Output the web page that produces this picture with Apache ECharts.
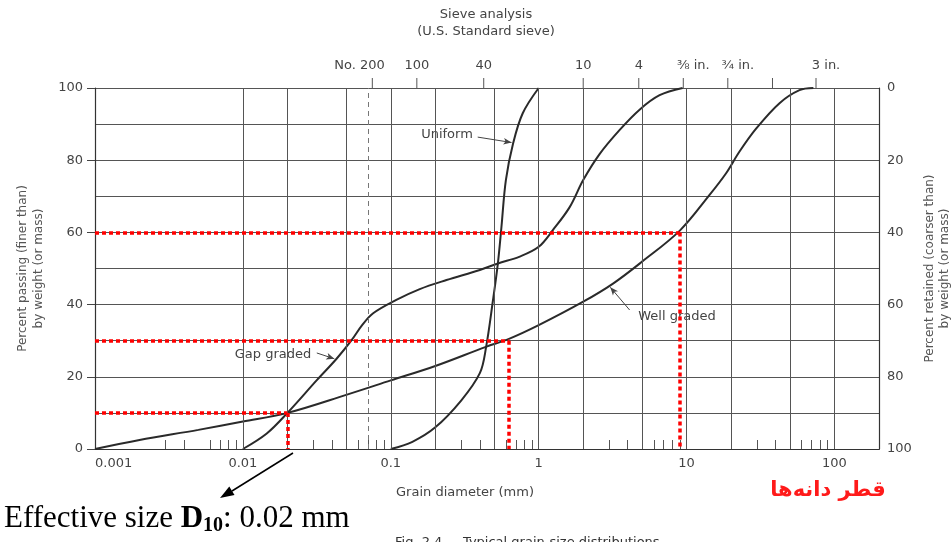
<!DOCTYPE html>
<html><head><meta charset="utf-8">
<script src="https://cdn.jsdelivr.net/npm/echarts@6/dist/echarts.min.js"></script>
<style>html,body{margin:0;padding:0;background:#fff}#c{width:951px;height:542px}</style>
</head><body><div id="c"></div>
<script>
// ---- data (grain diameter in mm, percent passing) ----
const uniformSize    = [0.1, 0.14, 0.2, 0.3, 0.4, 0.44, 0.49, 0.53, 0.56, 0.6, 0.67, 0.78, 1.0];
const uniformPassing = [0, 2, 6, 13.5, 21, 28, 41, 51.5, 61.5, 74.5, 84.5, 93, 100];

const gapSize    = [0.01, 0.0145, 0.02, 0.0315, 0.043, 0.054, 0.064, 0.076, 0.109, 0.157, 0.238, 0.4, 0.53, 0.745, 1.0, 1.25, 1.62, 2.0, 2.58, 3.53, 4.81, 6.57, 9.4];
const gapPassing = [0, 4.3, 10, 19, 25, 30, 34.3, 37.6, 41.3, 44.3, 46.8, 49.6, 51.4, 53.3, 56, 60.7, 67, 74.5, 81.7, 88.4, 94, 98, 100];

const wellSize    = [0.001, 0.002, 0.005, 0.01, 0.02, 0.05, 0.1, 0.2, 0.44, 0.63, 1.0, 2.0, 3.2, 5.0, 9.0, 14.3, 18.5, 22.8, 29.6, 42.5, 58, 72];
const wellPassing = [0, 2.5, 5.3, 7.6, 10, 15, 19, 23, 28.3, 30.5, 34.3, 40.8, 45.9, 51.9, 60.5, 70.4, 76.4, 82.4, 88.8, 95.8, 99.4, 100];

// effective sizes D10, D30, D60 (well graded)
const dSizes    = [0.02, 0.63, 9];
const dPercents = [10, 30, 60];

// axis ticks
const bottomLabels = [0.001, 0.01, 0.1, 1, 10, 100];
const gridLinesX   = [0.002, 0.005, 0.01, 0.02, 0.05, 0.1, 0.2, 0.5, 1, 2, 5, 10, 20, 50, 100];
const minorTicksX  = [0.003, 0.004, 0.006, 0.007, 0.008, 0.009, 0.03, 0.04, 0.06, 0.07, 0.08, 0.09,
                      0.3, 0.4, 0.6, 0.7, 0.8, 0.9, 3, 4, 6, 7, 8, 9, 30, 40, 60, 70, 80, 90];
const sieveSizes  = [0.075, 0.15, 0.425, 2, 4.75, 9.5, 19, 38.1, 75];
const sieveLabels = ['No. 200', '100', '40', '10', '4', '⅜ in.', '¾ in.', '', '3 in.'];
const no200Size = 0.075;

// ---- chart ----
const FONT = 'DejaVu Sans';
const TXT = '#444';
const zip = (xs, ys) => xs.map((x, i) => [x, ys[i]]);

// top axis shows the plain sieve labels; "No. 200" is placed separately
const topLabelValues = sieveSizes.filter((s, i) => sieveLabels[i] && sieveLabels[i].indexOf('No. ') !== 0);

function sieveFormatter(v) {
  let i = sieveSizes.findIndex(s => Math.abs(Math.log10(v / s)) < 1e-6);
  if (i < 0) return '';
  const t = sieveLabels[i];
  if (!t) return '';
  if (t.indexOf(' in.') > 0 && t.length === 5) return '{h| in.}{v|' + t + '}';
  return '{v|' + t + '}';
}

const curveStyle = { color: '#2a2a2a', width: 2 };
const arrowStyle = { color: '#444', width: 1, type: 'solid' };

function arrowLine(p0, p1) {
  return [{ coord: p0, symbol: 'none', lineStyle: arrowStyle }, { coord: p1, symbol: 'arrow', symbolSize: [5, 8], lineStyle: arrowStyle }];
}

const redLines = [];
dSizes.forEach((d, i) => {
  redLines.push([{ coord: [0.001, dPercents[i]] }, { coord: [d, dPercents[i]] }]);
  redLines.push([{ coord: [d, dPercents[i]] }, { coord: [d, 0] }]);
});

const curveCommon = { type: 'line', xAxisIndex: 0, yAxisIndex: 0, symbol: 'none', smooth: 0.35,
  lineStyle: curveStyle, z: 3, silent: true };

const staticGraphic = [
  { type: 'text', x: 486, y: 15, style: { text: 'Sieve analysis', font: '13px "DejaVu Sans"', fill: TXT, align: 'center', verticalAlign: 'middle' } },
  { type: 'text', x: 486, y: 32, style: { text: '(U.S. Standard sieve)', font: '13px "DejaVu Sans"', fill: TXT, align: 'center', verticalAlign: 'middle' } },
  { type: 'text', x: 465, y: 493, style: { text: 'Grain diameter (mm)', font: '13px "DejaVu Sans"', fill: TXT, align: 'center', verticalAlign: 'middle' } },
  { type: 'text', x: 447, y: 135, style: { text: 'Uniform', font: '13px "DejaVu Sans"', fill: TXT, align: 'center', verticalAlign: 'middle' } },
  { type: 'text', x: 273, y: 355, style: { text: 'Gap graded', font: '13px "DejaVu Sans"', fill: TXT, align: 'center', verticalAlign: 'middle' } },
  { type: 'text', x: 677, y: 317, style: { text: 'Well graded', font: '13px "DejaVu Sans"', fill: TXT, align: 'center', verticalAlign: 'middle' } },
  { type: 'text', x: 395, y: 536, style: { text: 'Fig. 2.4     Typical grain-size distributions', font: '13px "DejaVu Sans"', fill: '#333', align: 'left', verticalAlign: 'top' } },
  { type: 'text', x: 828, y: 491, style: { text: 'قطر دانه‌ها', font: 'bold 21px "DejaVu Sans"', fill: '#ff1a1a', align: 'center', verticalAlign: 'middle' } },
  { type: 'line', shape: { x1: 293, y1: 453, x2: 232, y2: 491 }, style: { stroke: '#000', lineWidth: 1.5 } },
  { type: 'polygon', shape: { points: [[220, 498], [234.5, 495.0], [229.3, 486.4]] }, style: { fill: '#000' } },
  {
    type: 'text', x: 4, y: 519,
    style: {
      text: '{a|Effective size }{b|D}{s|10}{a|: 0.02 mm}',
      verticalAlign: 'middle', align: 'left',
      rich: {
        a: { fontFamily: 'Liberation Serif', fontSize: 31, color: '#000', lineHeight: 34, verticalAlign: 'middle' },
        b: { fontFamily: 'Liberation Serif', fontSize: 31, fontWeight: 'bold', color: '#000', lineHeight: 34, verticalAlign: 'middle' },
        s: { fontFamily: 'Liberation Serif', fontSize: 20, fontWeight: 'bold', color: '#000', lineHeight: 18, verticalAlign: 'bottom' }
      }
    }
  }
];

const option = {
  animation: false,
  backgroundColor: '#fff',
  grid: { left: 95, right: 72, top: 88, bottom: 93, containLabel: false, outerBoundsMode: 'none' },
  xAxis: [
    {
      type: 'log', logBase: 10, min: 0.001, max: 200, position: 'bottom',
      axisLine: { show: true, lineStyle: { color: '#333', width: 1.2 } },
      axisTick: { show: true, inside: true, length: 9, customValues: minorTicksX, lineStyle: { color: '#555', width: 1 } },
      axisLabel: { customValues: bottomLabels, fontFamily: FONT, fontSize: 13, color: TXT, margin: 8,
        alignMinLabel: 'left', showMinLabel: true, showMaxLabel: true,
        formatter: v => String(+(+v).toPrecision(6)) },
      splitLine: { show: false },
      minorSplitLine: { show: false }
    },
    {
      type: 'log', logBase: 10, min: 0.001, max: 200, position: 'top',
      axisLine: { show: true, lineStyle: { color: '#333', width: 1.2 } },
      axisTick: { show: false },
      axisLabel: { customValues: topLabelValues, fontFamily: FONT, fontSize: 13, color: TXT, margin: 16,
        showMinLabel: true, showMaxLabel: true, hideOverlap: false,
        formatter: sieveFormatter,
        rich: {
          v: { fontFamily: FONT, fontSize: 13, color: TXT },
          h: { fontFamily: FONT, fontSize: 13, color: 'rgba(0,0,0,0)' }
        } },
      splitLine: { show: false }
    }
  ],
  yAxis: [
    {
      type: 'value', min: 0, max: 100, interval: 20, position: 'left',
      axisLine: { show: true, lineStyle: { color: '#333', width: 1.2 } },
      axisTick: { show: true, inside: false, length: 8, lineStyle: { color: '#444' } },
      axisLabel: { fontFamily: FONT, fontSize: 13, color: TXT, margin: 12 },
      splitLine: { show: false },
      name: 'Percent passing (finer than)\nby weight (or mass)',
      nameLocation: 'middle', nameRotate: 90, nameGap: 48,
      nameTextStyle: { fontFamily: FONT, fontSize: 12, color: '#555', lineHeight: 16, align: 'center' }
    },
    {
      type: 'value', min: 0, max: 100, interval: 10, position: 'left',
      axisLine: { show: false }, axisTick: { show: false }, axisLabel: { show: false },
      splitLine: { show: true, lineStyle: { color: '#555', width: 1 } }
    },
    {
      type: 'value', min: 0, max: 100, interval: 20, position: 'right', inverse: true,
      axisLine: { show: true, lineStyle: { color: '#333', width: 1.2 } },
      axisTick: { show: false },
      axisLabel: { fontFamily: FONT, fontSize: 13, color: TXT, margin: 8 },
      splitLine: { show: false },
      name: 'Percent retained (coarser than)\nby weight (or mass)',
      nameLocation: 'middle', nameRotate: 90, nameGap: 43,
      nameTextStyle: { fontFamily: FONT, fontSize: 12, color: '#555', lineHeight: 15, align: 'center' }
    }
  ],
  series: [
    {
      name: 'grid', type: 'line', data: [], xAxisIndex: 0, yAxisIndex: 0, z: 1, silent: true,
      markLine: {
        silent: true, symbol: ['none', 'none'], label: { show: false }, animation: false,
        lineStyle: { color: '#555', width: 1, type: 'solid' },
        emphasis: { disabled: true },
        data: gridLinesX.map(v => ({ xAxis: v })).concat([
          { xAxis: no200Size, lineStyle: { color: '#777', width: 1, type: [5, 4] } }
        ])
      }
    },
    Object.assign({ name: 'Uniform', data: zip(uniformSize, uniformPassing) }, curveCommon),
    Object.assign({ name: 'Gap graded', data: zip(gapSize, gapPassing) }, curveCommon),
    Object.assign({ name: 'Well graded', data: zip(wellSize, wellPassing) }, curveCommon),
    {
      name: 'annot', type: 'line', data: [], xAxisIndex: 0, yAxisIndex: 0, z: 4, silent: true,
      markLine: {
        silent: true, symbol: ['none', 'none'], label: { show: false }, animation: false,
        emphasis: { disabled: true },
        lineStyle: { color: '#ff0000', width: 3.5, type: [4, 3], cap: 'butt' },
        data: redLines.concat([
          arrowLine([0.387, 86.4], [0.655, 84.9]),
          arrowLine([0.0316, 26.6], [0.0415, 25.0]),
          arrowLine([4.12, 38.5], [3.05, 44.8])
        ])
      }
    }
  ],
  graphic: staticGraphic
};

const chart = echarts.init(document.getElementById('c'), null, { renderer: 'canvas' });
chart.setOption(option);

// sieve ticks above the top border, positioned through the top log axis
const topY = chart.convertToPixel({ yAxisIndex: 0 }, 100);
const extra = [];
sieveSizes.forEach((s, i) => {
  const px = chart.convertToPixel({ xAxisIndex: 1 }, s);
  extra.push({ type: 'line', shape: { x1: px, y1: topY, x2: px, y2: topY - 10 },
    style: { stroke: '#555', lineWidth: 1 } });
  if (sieveLabels[i].indexOf('No. ') === 0) {
    extra.push({ type: 'text', x: px + 12.4, y: topY - 16,
      style: { text: sieveLabels[i], font: '13px "DejaVu Sans"', fill: TXT, align: 'right', verticalAlign: 'bottom' } });
  }
});
chart.setOption({ graphic: staticGraphic.concat(extra) });
</script>
</body></html>
